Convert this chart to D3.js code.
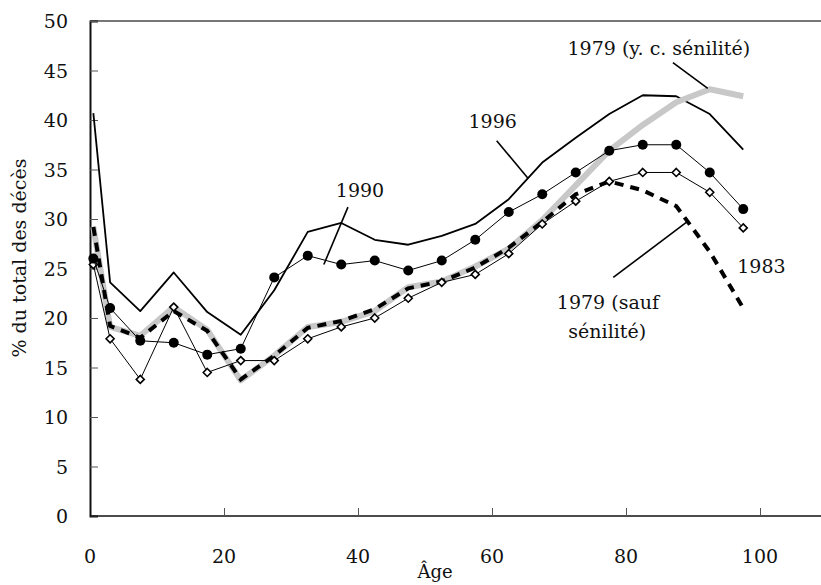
<!DOCTYPE html>
<html>
<head>
<meta charset="utf-8">
<script src="https://cdn.jsdelivr.net/npm/d3@7"></script>
<style>
  body { margin: 0; background: #fff; }
  text { font-family: "DejaVu Serif", serif; font-size: 19px; fill: #111; }
</style>
</head>
<body>
<svg id="chart" width="821" height="585"></svg>
<script>
// ages (mid-point of each age group)
var ages = [0.5, 3, 7.5, 12.5, 17.5, 22.5, 27.5, 32.5, 37.5, 42.5, 47.5, 52.5, 57.5, 62.5, 67.5, 72.5, 77.5, 82.5, 87.5, 92.5, 97.5];

// % du total des décès
var s1996 = [40.7, 23.6, 20.7, 24.6, 20.6, 18.3, 22.8, 28.7, 29.6, 27.9, 27.4, 28.3, 29.5, 32.0, 35.7, 38.2, 40.6, 42.5, 42.4, 40.6, 37.0];
var s1990 = [26.0, 21.0, 17.7, 17.5, 16.3, 16.9, 24.1, 26.3, 25.4, 25.8, 24.8, 25.8, 27.9, 30.7, 32.5, 34.7, 36.9, 37.5, 37.5, 34.7, 31.0];
var s1983 = [25.4, 17.9, 13.8, 21.1, 14.5, 15.7, 15.7, 17.9, 19.1, 20.0, 22.0, 23.6, 24.4, 26.5, 29.5, 31.8, 33.8, 34.7, 34.7, 32.7, 29.1];
var s1979yc = [29.2, 19.1, 18.2, 21.1, 18.8, 13.7, 16.2, 19.1, 19.6, 20.7, 23.1, 23.7, 25.2, 27.0, 29.9, 33.4, 36.9, 39.5, 41.8, 43.1, 42.4];
var s1979sauf = [29.2, 19.2, 18.0, 20.7, 18.7, 13.8, 16.2, 19.0, 19.7, 20.9, 23.0, 23.7, 25.1, 27.1, 29.7, 32.5, 33.8, 32.9, 31.3, 26.7, 21.0];

var xTicks = [0, 20, 40, 60, 80, 100];
var yTicks = [0, 5, 10, 15, 20, 25, 30, 35, 40, 45, 50];

// labels: text, age, value (baseline), anchor
var labels = [
    {t: "1979 (y. c. sénilité)", a: 84.9, v: 46.6, anchor: "middle"},
    {t: "1996", a: 60.1, v: 39.2, anchor: "middle"},
    {t: "1990", a: 40.3, v: 32.2, anchor: "middle"},
    {t: "1983", a: 96.6, v: 24.5, anchor: "start"},
    {t: "1979 (sauf", a: 77.3, v: 20.9, anchor: "middle"},
    {t: "sénilité)", a: 77.2, v: 18.0, anchor: "middle"}
];
// leader lines: [age1, val1, age2, val2]
var leaders = [
    [87.0, 45.8, 92.2, 43.2],
    [60.7, 37.9, 65.4, 34.1],
    [38.5, 31.2, 34.9, 25.4],
    [78.1, 24.1, 89.1, 29.7]
];

var svg = d3.select("#chart");

var x = d3.scaleLinear().domain([0, 110]).range([90, 827]);
var y = d3.scaleLinear().domain([0, 50]).range([516, 21]);

// frame top line
svg.append("line")
    .attr("x1", x(0)).attr("x2", 821)
    .attr("y1", y(50)).attr("y2", y(50))
    .attr("stroke", "#777").attr("stroke-width", 2);

// y axis
var yAxis = svg.append("g")
    .attr("transform", "translate(" + x(0) + ",0)")
    .call(d3.axisRight(y).tickValues(yTicks).tickSize(8).tickFormat(""));
yAxis.select(".domain").attr("stroke", "#111").attr("stroke-width", 2);
yAxis.selectAll(".tick line").attr("stroke", "#555");

svg.selectAll(".ylab").data(yTicks).enter().append("text")
    .attr("class", "ylab")
    .attr("x", 68)
    .attr("y", function(d) { return y(d) + 7; })
    .attr("text-anchor", "end")
    .text(function(d) { return d; });

// x axis
var xAxis = svg.append("g")
    .attr("transform", "translate(0," + y(0) + ")")
    .call(d3.axisTop(x).tickValues(xTicks.slice(1)).tickSize(8).tickFormat("").tickSizeOuter(0));
xAxis.select(".domain").attr("stroke", "#111").attr("stroke-width", 1.6)
    .attr("d", "M" + x(0) + ",0H821");
xAxis.selectAll(".tick line").attr("stroke", "#555");

svg.selectAll(".xlab").data(xTicks).enter().append("text")
    .attr("class", "xlab")
    .attr("x", function(d) { return x(d); })
    .attr("y", 563)
    .attr("text-anchor", "middle")
    .text(function(d) { return d; });

svg.append("text")
    .attr("x", 435).attr("y", 578)
    .attr("text-anchor", "middle")
    .style("font-size", "18px")
    .text("Âge");

svg.append("text")
    .attr("transform", "translate(26,258) rotate(-90)")
    .attr("text-anchor", "middle")
    .text("% du total des décès");

var line = d3.line()
    .x(function(d, i) { return x(ages[i]); })
    .y(function(d) { return y(d); });

// 1996
svg.append("path").datum(s1996)
    .attr("d", line).attr("fill", "none")
    .attr("stroke", "#000").attr("stroke-width", 1.8)
    .attr("stroke-linejoin", "round");

// 1979 incl. senility: thick grey
svg.append("path").datum(s1979yc)
    .attr("d", line).attr("fill", "none")
    .attr("stroke", "#c8c8c8").attr("stroke-width", 6)
    .attr("stroke-linejoin", "round");

// 1979 excl. senility: thick dashes
svg.append("path").datum(s1979sauf)
    .attr("d", line).attr("fill", "none")
    .attr("stroke", "#000").attr("stroke-width", 4)
    .attr("stroke-dasharray", "9,7");

// 1983: open diamonds
svg.append("path").datum(s1983)
    .attr("d", line).attr("fill", "none")
    .attr("stroke", "#000").attr("stroke-width", 1);
svg.selectAll(".dia").data(s1983).enter().append("path")
    .attr("class", "dia")
    .attr("d", function(d, i) {
        var cx = x(ages[i]), cy = y(d), r = 4;
        return "M" + cx + "," + (cy - r) + "L" + (cx + r) + "," + cy + "L" + cx + "," + (cy + r) + "L" + (cx - r) + "," + cy + "Z";
    })
    .attr("fill", "#fff").attr("stroke", "#000").attr("stroke-width", 1.6);

// 1990: filled circles
svg.append("path").datum(s1990)
    .attr("d", line).attr("fill", "none")
    .attr("stroke", "#000").attr("stroke-width", 1);
svg.selectAll(".dot").data(s1990).enter().append("circle")
    .attr("class", "dot")
    .attr("cx", function(d, i) { return x(ages[i]); })
    .attr("cy", function(d) { return y(d); })
    .attr("r", 5)
    .attr("fill", "#000");

// annotations
svg.selectAll(".lead").data(leaders).enter().append("line")
    .attr("class", "lead")
    .attr("x1", function(d) { return x(d[0]); })
    .attr("y1", function(d) { return y(d[1]); })
    .attr("x2", function(d) { return x(d[2]); })
    .attr("y2", function(d) { return y(d[3]); })
    .attr("stroke", "#000").attr("stroke-width", 1.6);

svg.selectAll(".ann").data(labels).enter().append("text")
    .attr("class", "ann")
    .attr("x", function(d) { return x(d.a); })
    .attr("y", function(d) { return y(d.v); })
    .attr("text-anchor", function(d) { return d.anchor; })
    .text(function(d) { return d.t; });
</script>
</body>
</html>
